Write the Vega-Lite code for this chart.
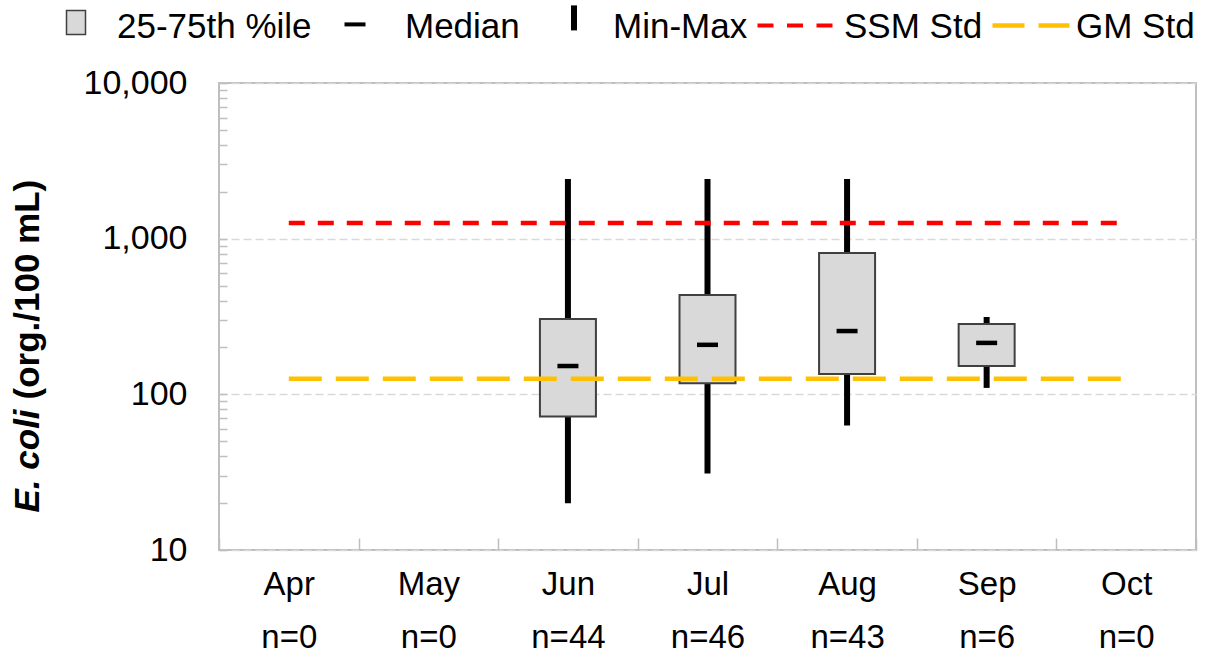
{
  "$schema": "https://vega.github.io/schema/vega-lite/v6.json",
  "width": 977,
  "height": 467,
  "autosize": {"type": "none"},
  "padding": {"left": 219, "top": 83, "right": 11, "bottom": 110},
  "background": "white",
  "config": {
    "view": {"stroke": "#bfbfbf", "strokeWidth": 2},
    "font": "Liberation Sans",
    "axis": {"labelFont": "Liberation Sans", "titleFont": "Liberation Sans", "labelColor": "#000000", "titleColor": "#000000"},
    "legend": {
      "labelFont": "Liberation Sans",
      "labelFontSize": 35,
      "labelColor": "#000000",
      "labelLimit": 0,
      "labelOffset": 5,
      "columnPadding": 6,
      "rowPadding": 0,
      "padding": 0,
      "symbolSize": 6400,
      "symbolStrokeWidth": 1.5,
      "symbolOpacity": 1,
      "titlePadding": 0
    }
  },
  "datasets": {
    "boxes": [
      {"month": "Jun|n=44", "min": 20, "q1": 72, "median": 152, "q3": 305, "max": 2420},
      {"month": "Jul|n=46", "min": 31, "q1": 118, "median": 208, "q3": 435, "max": 2420},
      {"month": "Aug|n=43", "min": 63, "q1": 135, "median": 255, "q3": 810, "max": 2420},
      {"month": "Sep|n=6", "min": 110, "q1": 152, "median": 214, "q3": 283, "max": 314}
    ],
    "ssm": [
      {"month": "Apr|n=0", "to": "Oct|n=0", "value": 1260, "std": "SSM Std"}
    ],
    "gm": [
      {"month": "Apr|n=0", "to": "Oct|n=0", "value": 126, "std": "GM Std"}
    ],
    "legendItems": [
      {"series": "25-75th %ile"},
      {"series": "Median"},
      {"series": "Min-Max"},
      {"series": "SSM Std"},
      {"series": "GM Std"}
    ]
  },
  "encoding": {
    "x": {
      "field": "month",
      "type": "nominal",
      "scale": {
        "domain": ["Apr|n=0", "May|n=0", "Jun|n=44", "Jul|n=46", "Aug|n=43", "Sep|n=6", "Oct|n=0"],
        "paddingInner": 0,
        "paddingOuter": 0
      },
      "axis": {
        "title": null,
        "labelExpr": "split(datum.label, '|')",
        "labelAngle": 0,
        "labelFontSize": 33,
        "labelLineHeight": 53,
        "labelPadding": 30,
        "labelBaseline": "top",
        "tickBand": "extent",
        "tickSize": -12,
        "tickColor": "#bfbfbf",
        "tickWidth": 1.5,
        "domain": false,
        "grid": false
      }
    }
  },
  "layer": [
    {
      "data": {"name": "boxes"},
      "mark": {"type": "rule", "strokeWidth": 6, "color": "#000000"},
      "encoding": {
        "y": {
          "field": "min",
          "type": "quantitative",
          "scale": {"type": "log", "domain": [10, 10000], "nice": false},
          "axis": {
            "orient": "left",
            "values": [10, 20, 30, 40, 50, 60, 70, 80, 90, 100, 200, 300, 400, 500, 600, 700, 800, 900, 1000, 2000, 3000, 4000, 5000, 6000, 7000, 8000, 9000, 10000],
            "labels": false,
            "ticks": true,
            "tickSize": -8,
            "tickColor": "#bfbfbf",
            "tickWidth": 1.5,
            "domain": false,
            "grid": false,
            "title": "E. coli",
            "titleFontStyle": "italic",
            "titleFontWeight": "bold",
            "titleFontSize": 35,
            "titleAngle": -90,
            "titleAlign": "left",
            "titleBaseline": "alphabetic",
            "titleX": -181,
            "titleY": 429
          }
        },
        "y2": {"field": "max"}
      }
    },
    {
      "data": {"name": "boxes"},
      "mark": {"type": "bar", "width": 56, "fill": "#d9d9d9", "stroke": "#404040", "strokeWidth": 2},
      "encoding": {
        "y": {
          "field": "q1",
          "type": "quantitative",
          "scale": {"type": "log", "domain": [10, 10000], "nice": false},
          "axis": {
            "orient": "left",
            "values": [10, 100, 1000, 10000],
            "format": ",",
            "ticks": false,
            "tickSize": 0,
            "domain": false,
            "grid": true,
            "gridDash": [8, 4],
            "gridColor": "#d9d9d9",
            "gridWidth": 1.5,
            "labelFontSize": 34,
            "labelPadding": 32,
            "title": "(org./100 mL)",
            "titleFontSize": 35,
            "titleFontWeight": "bold",
            "titleAngle": -90,
            "titleAlign": "left",
            "titleBaseline": "alphabetic",
            "titleX": -181,
            "titleY": 316
          }
        },
        "y2": {"field": "q3"}
      }
    },
    {
      "data": {"name": "boxes"},
      "mark": {"type": "tick", "size": 21, "thickness": 4.5, "color": "#000000", "opacity": 1},
      "encoding": {
        "y": {
          "field": "median",
          "type": "quantitative",
          "scale": {"type": "log", "domain": [10, 10000], "nice": false},
          "axis": null
        }
      }
    },
    {
      "data": {"name": "ssm"},
      "mark": {"type": "rule", "stroke": "#ff0000", "strokeWidth": 4.5, "strokeDash": [16, 13]},
      "encoding": {
        "x": {"field": "month", "type": "nominal", "bandPosition": 0.5},
        "x2": {"field": "to", "bandPosition": 0.5},
        "y": {
          "field": "value",
          "type": "quantitative",
          "scale": {"type": "log", "domain": [10, 10000], "nice": false},
          "axis": null
        }
      }
    },
    {
      "data": {"name": "gm"},
      "mark": {"type": "rule", "stroke": "#ffc000", "strokeWidth": 4.5, "strokeDash": [33, 14]},
      "encoding": {
        "x": {"field": "month", "type": "nominal", "bandPosition": 0.5},
        "x2": {"field": "to", "bandPosition": 0.5},
        "y": {
          "field": "value",
          "type": "quantitative",
          "scale": {"type": "log", "domain": [10, 10000], "nice": false},
          "axis": null
        }
      }
    },
    {
      "data": {"name": "legendItems"},
      "transform": [{"filter": "false"}],
      "mark": {"type": "point", "filled": true, "opacity": 1, "size": 6400, "strokeWidth": 1.5},
      "encoding": {
        "shape": {
          "field": "series",
          "type": "nominal",
          "scale": {
            "domain": ["25-75th %ile", "Median", "Min-Max", "SSM Std", "GM Std"],
            "range": [
              "M-0.1125,-0.415H0.3625V0.185H-0.1125Z",
              "M-0.3625,-0.115H0.1625V-0.015H-0.3625Z",
              "M0.1,-0.54H0.25V0.085H0.1Z",
              "M-1.0125,-0.09H-0.6125V0.01H-1.0125Z M-0.275,-0.09H0.125V0.01H-0.275Z M0.4625,-0.09H0.8625V0.01H0.4625Z",
              "M-0.9375,-0.096H-0.1375V0.016H-0.9375Z M0.2125,-0.096H0.9875V0.016H0.2125Z"
            ]
          },
          "legend": {"title": null, "orient": "none", "legendX": -189, "legendY": -97, "direction": "horizontal", "columns": 5}
        },
        "fill": {
          "field": "series",
          "type": "nominal",
          "scale": {
            "domain": ["25-75th %ile", "Median", "Min-Max", "SSM Std", "GM Std"],
            "range": ["#d9d9d9", "#000000", "#000000", "#ff0000", "#ffc000"]
          },
          "legend": {"title": null, "orient": "none", "legendX": -189, "legendY": -97, "direction": "horizontal", "columns": 5}
        },
        "stroke": {
          "field": "series",
          "type": "nominal",
          "scale": {
            "domain": ["25-75th %ile", "Median", "Min-Max", "SSM Std", "GM Std"],
            "range": ["#404040", "transparent", "transparent", "transparent", "transparent"]
          },
          "legend": {"title": null, "orient": "none", "legendX": -189, "legendY": -97, "direction": "horizontal", "columns": 5}
        }
      }
    }
  ],
  "resolve": {"axis": {"y": "independent"}}
}
